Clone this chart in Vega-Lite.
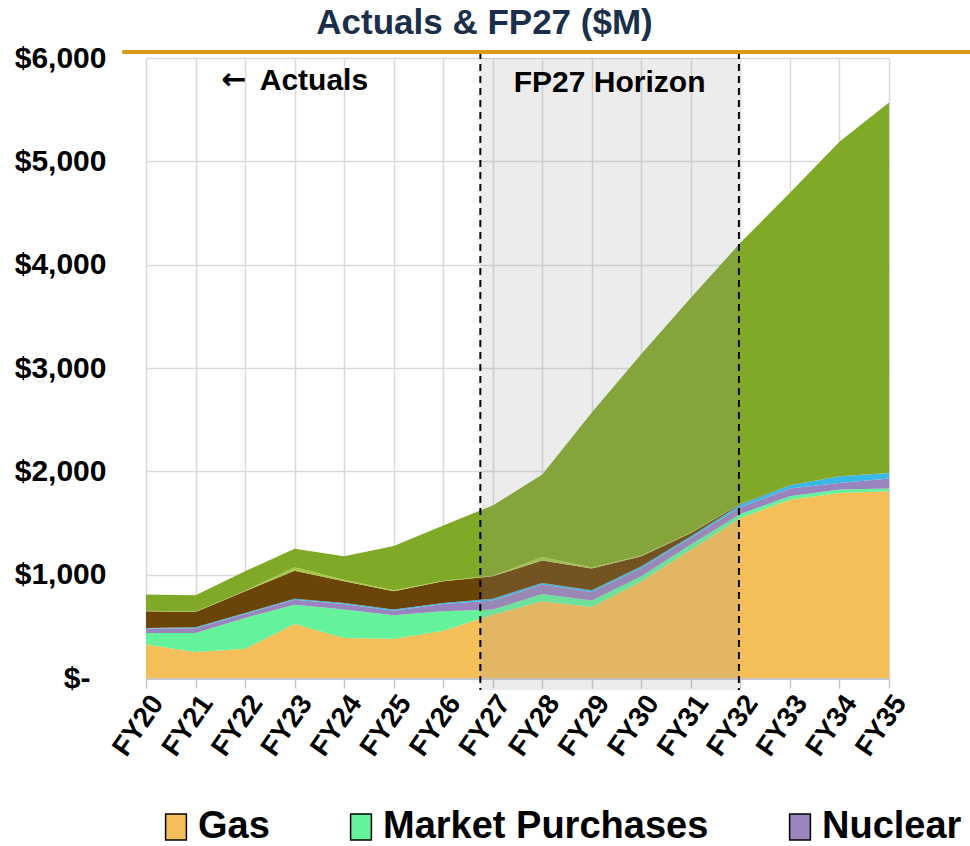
{
  "$schema": "https://vega.github.io/schema/vega-lite/v6.json",
  "width": 743,
  "height": 620,
  "autosize": {"type": "none"},
  "padding": {"left": 146, "top": 58, "right": 81, "bottom": 168},
  "background": "white",
  "title": {
    "text": "Actuals & FP27 ($M)",
    "font": "Liberation Sans",
    "fontSize": 35,
    "fontWeight": "bold",
    "color": "#1b2f4b",
    "anchor": "middle",
    "frame": "group",
    "dx": -33,
    "offset": 2
  },
  "config": {
    "view": {"stroke": null},
    "font": "Liberation Sans"
  },
  "datasets": {
    "mix": [
      {"fy": 20, "s": "Gas", "k": 1, "v": 323}, {"fy": 20, "s": "Market Purchases", "k": 2, "v": 113}, {"fy": 20, "s": "Nuclear", "k": 3, "v": 42}, {"fy": 20, "s": "Hydro", "k": 4, "v": 6}, {"fy": 20, "s": "Coal", "k": 5, "v": 161}, {"fy": 20, "s": "Other", "k": 6, "v": 5}, {"fy": 20, "s": "Renewables", "k": 7, "v": 157},
      {"fy": 21, "s": "Gas", "k": 1, "v": 252}, {"fy": 21, "s": "Market Purchases", "k": 2, "v": 184}, {"fy": 21, "s": "Nuclear", "k": 3, "v": 46}, {"fy": 21, "s": "Hydro", "k": 4, "v": 8}, {"fy": 21, "s": "Coal", "k": 5, "v": 149}, {"fy": 21, "s": "Other", "k": 6, "v": 5}, {"fy": 21, "s": "Renewables", "k": 7, "v": 156},
      {"fy": 22, "s": "Gas", "k": 1, "v": 284}, {"fy": 22, "s": "Market Purchases", "k": 2, "v": 297}, {"fy": 22, "s": "Nuclear", "k": 3, "v": 39}, {"fy": 22, "s": "Hydro", "k": 4, "v": 9}, {"fy": 22, "s": "Coal", "k": 5, "v": 210}, {"fy": 22, "s": "Other", "k": 6, "v": 6}, {"fy": 22, "s": "Renewables", "k": 7, "v": 188},
      {"fy": 23, "s": "Gas", "k": 1, "v": 523}, {"fy": 23, "s": "Market Purchases", "k": 2, "v": 187}, {"fy": 23, "s": "Nuclear", "k": 3, "v": 48}, {"fy": 23, "s": "Hydro", "k": 4, "v": 10}, {"fy": 23, "s": "Coal", "k": 5, "v": 271}, {"fy": 23, "s": "Other", "k": 6, "v": 32}, {"fy": 23, "s": "Renewables", "k": 7, "v": 181},
      {"fy": 24, "s": "Gas", "k": 1, "v": 387}, {"fy": 24, "s": "Market Purchases", "k": 2, "v": 275}, {"fy": 24, "s": "Nuclear", "k": 3, "v": 53}, {"fy": 24, "s": "Hydro", "k": 4, "v": 11}, {"fy": 24, "s": "Coal", "k": 5, "v": 210}, {"fy": 24, "s": "Other", "k": 6, "v": 14}, {"fy": 24, "s": "Renewables", "k": 7, "v": 228},
      {"fy": 25, "s": "Gas", "k": 1, "v": 381}, {"fy": 25, "s": "Market Purchases", "k": 2, "v": 226}, {"fy": 25, "s": "Nuclear", "k": 3, "v": 45}, {"fy": 25, "s": "Hydro", "k": 4, "v": 10}, {"fy": 25, "s": "Coal", "k": 5, "v": 177}, {"fy": 25, "s": "Other", "k": 6, "v": 9}, {"fy": 25, "s": "Renewables", "k": 7, "v": 430},
      {"fy": 26, "s": "Gas", "k": 1, "v": 458}, {"fy": 26, "s": "Market Purchases", "k": 2, "v": 187}, {"fy": 26, "s": "Nuclear", "k": 3, "v": 70}, {"fy": 26, "s": "Hydro", "k": 4, "v": 11}, {"fy": 26, "s": "Coal", "k": 5, "v": 210}, {"fy": 26, "s": "Other", "k": 6, "v": 6}, {"fy": 26, "s": "Renewables", "k": 7, "v": 535},
      {"fy": 27, "s": "Gas", "k": 1, "v": 613}, {"fy": 27, "s": "Market Purchases", "k": 2, "v": 49}, {"fy": 27, "s": "Nuclear", "k": 3, "v": 87}, {"fy": 27, "s": "Hydro", "k": 4, "v": 19}, {"fy": 27, "s": "Coal", "k": 5, "v": 216}, {"fy": 27, "s": "Other", "k": 6, "v": 6}, {"fy": 27, "s": "Renewables", "k": 7, "v": 680},
      {"fy": 28, "s": "Gas", "k": 1, "v": 742}, {"fy": 28, "s": "Market Purchases", "k": 2, "v": 71}, {"fy": 28, "s": "Nuclear", "k": 3, "v": 91}, {"fy": 28, "s": "Hydro", "k": 4, "v": 16}, {"fy": 28, "s": "Coal", "k": 5, "v": 216}, {"fy": 28, "s": "Other", "k": 6, "v": 34}, {"fy": 28, "s": "Renewables", "k": 7, "v": 800},
      {"fy": 29, "s": "Gas", "k": 1, "v": 687}, {"fy": 29, "s": "Market Purchases", "k": 2, "v": 62}, {"fy": 29, "s": "Nuclear", "k": 3, "v": 84}, {"fy": 29, "s": "Hydro", "k": 4, "v": 16}, {"fy": 29, "s": "Coal", "k": 5, "v": 210}, {"fy": 29, "s": "Other", "k": 6, "v": 10}, {"fy": 29, "s": "Renewables", "k": 7, "v": 1500},
      {"fy": 30, "s": "Gas", "k": 1, "v": 936}, {"fy": 30, "s": "Market Purchases", "k": 2, "v": 48}, {"fy": 30, "s": "Nuclear", "k": 3, "v": 81}, {"fy": 30, "s": "Hydro", "k": 4, "v": 16}, {"fy": 30, "s": "Coal", "k": 5, "v": 97}, {"fy": 30, "s": "Other", "k": 6, "v": 7}, {"fy": 30, "s": "Renewables", "k": 7, "v": 1950},
      {"fy": 31, "s": "Gas", "k": 1, "v": 1242}, {"fy": 31, "s": "Market Purchases", "k": 2, "v": 49}, {"fy": 31, "s": "Nuclear", "k": 3, "v": 64}, {"fy": 31, "s": "Hydro", "k": 4, "v": 16}, {"fy": 31, "s": "Coal", "k": 5, "v": 33}, {"fy": 31, "s": "Other", "k": 6, "v": 4}, {"fy": 31, "s": "Renewables", "k": 7, "v": 2271},
      {"fy": 32, "s": "Gas", "k": 1, "v": 1549}, {"fy": 32, "s": "Market Purchases", "k": 2, "v": 39}, {"fy": 32, "s": "Nuclear", "k": 3, "v": 64}, {"fy": 32, "s": "Hydro", "k": 4, "v": 26}, {"fy": 32, "s": "Coal", "k": 5, "v": 6}, {"fy": 32, "s": "Other", "k": 6, "v": 2}, {"fy": 32, "s": "Renewables", "k": 7, "v": 2525},
      {"fy": 33, "s": "Gas", "k": 1, "v": 1726}, {"fy": 33, "s": "Market Purchases", "k": 2, "v": 33}, {"fy": 33, "s": "Nuclear", "k": 3, "v": 74}, {"fy": 33, "s": "Hydro", "k": 4, "v": 32}, {"fy": 33, "s": "Coal", "k": 5, "v": 0}, {"fy": 33, "s": "Other", "k": 6, "v": 0}, {"fy": 33, "s": "Renewables", "k": 7, "v": 2830},
      {"fy": 34, "s": "Gas", "k": 1, "v": 1791}, {"fy": 34, "s": "Market Purchases", "k": 2, "v": 32}, {"fy": 34, "s": "Nuclear", "k": 3, "v": 65}, {"fy": 34, "s": "Hydro", "k": 4, "v": 64}, {"fy": 34, "s": "Coal", "k": 5, "v": 0}, {"fy": 34, "s": "Other", "k": 6, "v": 0}, {"fy": 34, "s": "Renewables", "k": 7, "v": 3237},
      {"fy": 35, "s": "Gas", "k": 1, "v": 1807}, {"fy": 35, "s": "Market Purchases", "k": 2, "v": 26}, {"fy": 35, "s": "Nuclear", "k": 3, "v": 97}, {"fy": 35, "s": "Hydro", "k": 4, "v": 55}, {"fy": 35, "s": "Coal", "k": 5, "v": 0}, {"fy": 35, "s": "Other", "k": 6, "v": 0}, {"fy": 35, "s": "Renewables", "k": 7, "v": 3585}
    ],
    "band": [{"a": 26.75, "b": 31.97}],
    "dash": [{"a": 26.75}, {"a": 31.97}],
    "topline": [{"a": 19.52, "b": 36.64}],
    "arrow": [{"a": 21.78, "y": 5790, "t": "←"}],
    "notes": [{"a": 23.39, "y": 5780, "t": "Actuals"}, {"a": 29.36, "y": 5755, "t": "FP27 Horizon"}]
  },
  "layer": [
    {
      "data": {"name": "mix"},
      "mark": {"type": "area", "opacity": 1},
      "encoding": {
        "x": {
          "field": "fy",
          "type": "quantitative",
          "scale": {"domain": [20, 35], "nice": false, "zero": false},
          "axis": {
            "title": null,
            "values": [20, 21, 22, 23, 24, 25, 26, 27, 28, 29, 30, 31, 32, 33, 34, 35],
            "labelExpr": "'FY' + datum.value",
            "grid": true,
            "gridColor": "#d9d9d9",
            "gridWidth": 1.5,
            "domainColor": "#c8c8c8",
            "domainWidth": 3,
            "tickColor": "#c8c8c8",
            "tickWidth": 1.5,
            "tickSize": 10,
            "labelAngle": -55,
            "labelAlign": "right",
            "labelBaseline": "top",
            "labelFont": "Liberation Sans",
            "labelFontSize": 28,
            "labelFontWeight": "bold",
            "labelColor": "black",
            "labelPadding": 2,
            "labelOverlap": false,
            "labelFlush": false
          }
        },
        "y": {
          "field": "v",
          "type": "quantitative",
          "stack": "zero",
          "scale": {"domain": [0, 6000], "nice": false},
          "axis": {
            "title": null,
            "values": [0, 1000, 2000, 3000, 4000, 5000, 6000],
            "labelExpr": "datum.value == 0 ? '$-' : '$' + format(datum.value, ',')",
            "grid": true,
            "gridColor": "#d9d9d9",
            "gridWidth": 1.5,
            "domain": false,
            "ticks": false,
            "labelFont": "Liberation Sans",
            "labelFontSize": 30,
            "labelFontWeight": "bold",
            "labelColor": "black",
            "labelPadding": {"condition": {"test": "datum.value == 0", "value": 56}, "value": 40}
          }
        },
        "order": {"field": "k", "type": "quantitative", "sort": "ascending"},
        "color": {
          "field": "s",
          "type": "nominal",
          "scale": {
            "domain": ["Gas", "Market Purchases", "Nuclear", "Hydro", "Coal", "Other", "Renewables"],
            "range": ["#f4be58", "#64f29a", "#9a84bd", "#3ab8e8", "#6b4508", "#a7c843", "#80a928"]
          },
          "legend": {
            "title": null,
            "values": ["Gas", "Market Purchases", "Nuclear"],
            "orient": "none",
            "legendX": 11,
            "legendY": 750,
            "direction": "horizontal",
            "symbolType": "M-0.8,-1H0.8V1H-0.8Z",
            "symbolSize": 676,
            "symbolStrokeColor": "black",
            "symbolStrokeWidth": 1.5,
            "symbolOpacity": 1,
            "labelFont": "Liberation Sans",
            "labelFontSize": 38,
            "labelFontWeight": "bold",
            "labelColor": "black",
            "labelOffset": 3,
            "labelLimit": 0,
            "columnPadding": 72
          }
        }
      }
    },
    {
      "data": {"name": "band"},
      "mark": {"type": "rect", "color": "#989898", "opacity": 0.18, "y2Offset": 12},
      "encoding": {
        "x": {"field": "a", "type": "quantitative"},
        "x2": {"field": "b"},
        "y": {"datum": 6000},
        "y2": {"datum": 0}
      }
    },
    {
      "data": {"name": "dash"},
      "mark": {"type": "rule", "color": "black", "strokeWidth": 2, "strokeDash": [7, 5], "yOffset": -6, "y2Offset": 12},
      "encoding": {
        "x": {"field": "a", "type": "quantitative"},
        "y": {"datum": 6000},
        "y2": {"datum": 0}
      }
    },
    {
      "data": {"name": "topline"},
      "mark": {"type": "rule", "color": "#dc9a14", "strokeWidth": 4, "yOffset": -6},
      "encoding": {
        "x": {"field": "a", "type": "quantitative"},
        "x2": {"field": "b"},
        "y": {"datum": 6000}
      }
    },
    {
      "data": {"name": "arrow"},
      "mark": {"type": "text", "font": "DejaVu Sans", "fontSize": 30, "fontWeight": "bold", "color": "black", "align": "center", "baseline": "middle"},
      "encoding": {
        "x": {"field": "a", "type": "quantitative"},
        "y": {"field": "y", "type": "quantitative"},
        "text": {"field": "t"}
      }
    },
    {
      "data": {"name": "notes"},
      "mark": {"type": "text", "font": "Liberation Sans", "fontSize": 30, "fontWeight": "bold", "color": "black", "align": "center", "baseline": "middle"},
      "encoding": {
        "x": {"field": "a", "type": "quantitative"},
        "y": {"field": "y", "type": "quantitative"},
        "text": {"field": "t"}
      }
    }
  ]
}
